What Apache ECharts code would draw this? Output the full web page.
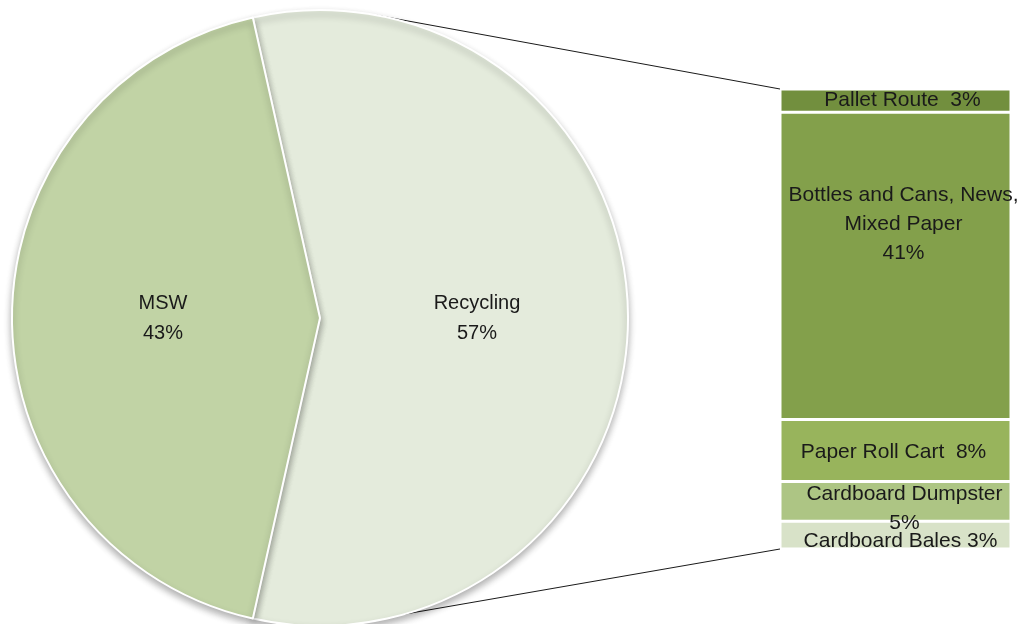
<!DOCTYPE html>
<html>
<head>
<meta charset="utf-8">
<script src="https://cdn.jsdelivr.net/npm/echarts@6/dist/echarts.min.js"></script>
<style>html,body{margin:0;padding:0;background:#fff}#c{width:1024px;height:624px}</style>
</head>
<body>
<div id="c"></div>
<script>
var pieNames = ['Recycling', 'MSW'];
var pieValues = [57, 43];
var barNames = ['Cardboard Bales', 'Cardboard Dumpster', 'Paper Roll Cart', 'Bottles and Cans, News, Mixed Paper', 'Pallet Route'];
var barValues = [3.7, 5.3, 8.3, 41, 3.1];
var barLabels = ['Cardboard Bales 3%', 'Cardboard Dumpster\n5%', 'Paper Roll Cart  8%', 'Bottles and Cans, News,\nMixed Paper\n41%', 'Pallet Route  3%'];

var FONT = 'Liberation Sans';
var pieColors = ['#e4ebdc', '#c1d3a5'];
var barColors = ['#d8e2c8', '#adc584', '#98b45c', '#83a04b', '#728f3e'];
var labelOffsets = [[5, 6], [9, 7], [-2, 2], [8, -42], [7, 0]];

var CX = 320, CY = 318, R = 308;
var GL = 780, GR = 13, GT = 89, GB = 75;
var barTotal = barValues.reduce(function (a, b) { return a + b; }, 0);

var chart = echarts.init(document.getElementById('c'), null, {renderer: 'canvas'});

var barSeries = barValues.map(function (v, i) {
  return {
    type: 'bar', stack: 'r', name: barNames[i],
    data: [v], barWidth: '100%',
    itemStyle: {color: barColors[i], borderColor: '#ffffff', borderWidth: 1.5},
    label: {
      show: true, position: 'inside', formatter: barLabels[i],
      offset: labelOffsets[i],
      color: '#1a1a1a', fontFamily: FONT, fontSize: 21, lineHeight: 29, overflow: 'none'
    },
    emphasis: {disabled: true}
  };
});

function pt(angDeg) {
  var a = angDeg * Math.PI / 180;
  return [CX + R * Math.sin(a), CY - R * Math.cos(a)];
}
var p1 = pt(10.7), p2 = pt(164);

var option = {
  backgroundColor: '#ffffff',
  animation: false,
  grid: {left: GL, right: GR, top: GT, bottom: GB, containLabel: false},
  xAxis: {type: 'category', data: ['Recycling'], show: false},
  yAxis: {type: 'value', min: 0, max: barTotal, show: false},
  graphic: [
    {type: 'line', shape: {x1: p1[0], y1: p1[1], x2: GL, y2: GT}, style: {stroke: '#1a1a1a', lineWidth: 1}, z: 1},
    {type: 'line', shape: {x1: p2[0], y1: p2[1], x2: GL, y2: 624 - GB}, style: {stroke: '#1a1a1a', lineWidth: 1}, z: 1}
  ],
  series: [{
    type: 'pie',
    center: [CX, CY],
    radius: [0, R],
    startAngle: 102.6,
    clockwise: true,
    data: pieNames.map(function (n, i) { return {name: n, value: pieValues[i], itemStyle: {color: pieColors[i]}}; }),
    itemStyle: {borderColor: '#ffffff', borderWidth: 2, shadowBlur: 7, shadowColor: 'rgba(0,0,0,0.3)', shadowOffsetY: 4},
    label: {
      show: true, position: 'inner',
      formatter: function (p) { return p.name + '\n' + p.value + '%'; },
      color: '#1a1a1a', fontFamily: FONT, fontSize: 20, lineHeight: 30
    },
    labelLine: {show: false},
    emphasis: {disabled: true},
    z: 3
  }].concat(barSeries)
};
chart.setOption(option);
</script>
</body>
</html>
